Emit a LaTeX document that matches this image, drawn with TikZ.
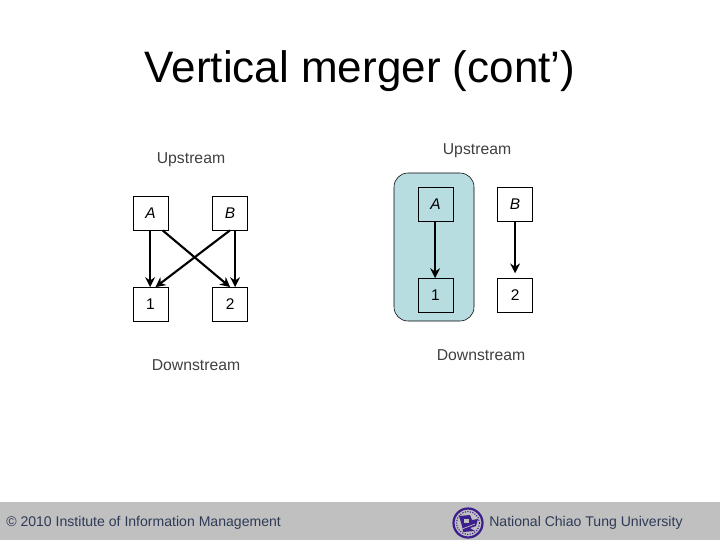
\documentclass[tikz,border=0pt]{standalone}
\usepackage{fontspec}
\setmainfont{Liberation Sans}
\usepackage{tikz}
\usetikzlibrary{arrows.meta, positioning}

\definecolor{groupfill}{HTML}{B7DDE1}
\definecolor{footergray}{HTML}{C0C0C0}
\definecolor{footertext}{HTML}{2F3A56}
\definecolor{logopurple}{HTML}{3C1E8C}

\begin{document}
\begin{tikzpicture}[
        x=0.025cm, y=-0.025cm,
        box/.style={draw, fill=white, minimum width=0.875cm, minimum height=0.85cm, inner sep=0pt, font=\fontsize{11}{12}\selectfont},
        label/.style={text=black!75, font=\fontsize{11.2}{12}\selectfont},
        foot/.style={text=footertext, font=\fontsize{10}{12}\selectfont},
        arrow/.style={-{Stealth[length=7pt, width=7pt]}, line width=1.5pt},
        node distance=1.42cm and 1.1cm
    ]
    \useasboundingbox (0,0) rectangle (720,540);
    \fill[white] (0,0) rectangle (720,540);
    \fill[footergray] (0,502) rectangle (720,540);

    % Title
    \node[text=black, font=\fontsize{31.3}{36}\selectfont] (title) at (360,71) {Vertical merger (cont’)};

    % Left nodes
    \node[box] (leftA) at (150.5,213) {\itshape A};
    \node[box, right=of leftA] (leftB) {\itshape B};
    \node[box, below=of leftA] (left1) {1};
    \node[box, right=of left1] (left2) {2};
    \node[label] (leftup) at (191,160) {Upstream};
    \node[label] (leftdown) at (196,365) {Downstream};

    % Right nodes
    \fill[groupfill, draw=black, rounded corners=0.35cm] (394,173) rectangle (474,321);
    \node[box, fill=groupfill] (rightA) at (435.5,204) {\itshape A};
    \node[box, right=of rightA] (rightB) {\itshape B};
    \node[box, fill=groupfill, below=of rightA] (right1) {1};
    \node[box, right=of right1] (right2) {2};
    \node[label] (rightup) at (477,151) {Upstream};
    \node[label] (rightdown) at (481,355) {Downstream};

    % Arrows
    \draw[arrow] ([xshift=-0.01cm]leftA.south) -- ([xshift=-0.01cm]left1.north);
    \draw[arrow] ([xshift=0.125cm]leftB.south) -- ([xshift=0.125cm]left2.north);
    \draw[arrow] ([xshift=0.3cm]leftA.south) -- (left2.north);
    \draw[arrow] (leftB.south) -- ([xshift=0.125cm]left1.north);
    \draw[arrow] ([xshift=-0.01cm]rightA.south) -- ([xshift=-0.01cm]right1.north);
    \draw[arrow] (rightB) -- ([yshift=0.12cm]right2.north);

    % Footer
    \node[foot, anchor=west, inner sep=0pt] (footleft) at (6,522.5) {© 2010 Institute of Information Management};
    \node[foot, anchor=west, inner sep=0pt] (footright) at (489,522.5) {National Chiao Tung University};

    % Logo
    \draw[logopurple, line width=1.6pt] (468,523) circle (14.5);
    \draw[logopurple, line width=0.8pt, densely dotted] (468,523) circle (11.5);
    \fill[logopurple] (459,516) -- (470,515) -- (472,520) -- (478,519) -- (476,526) -- (470,528) -- (475,531) -- (463,532) -- (462,526) -- cycle;
    \fill[footergray] (464,519) rectangle (469,523);
    \draw[footergray, line width=0.5pt] (462,529) -- (475,524);
\end{tikzpicture}
\end{document}
